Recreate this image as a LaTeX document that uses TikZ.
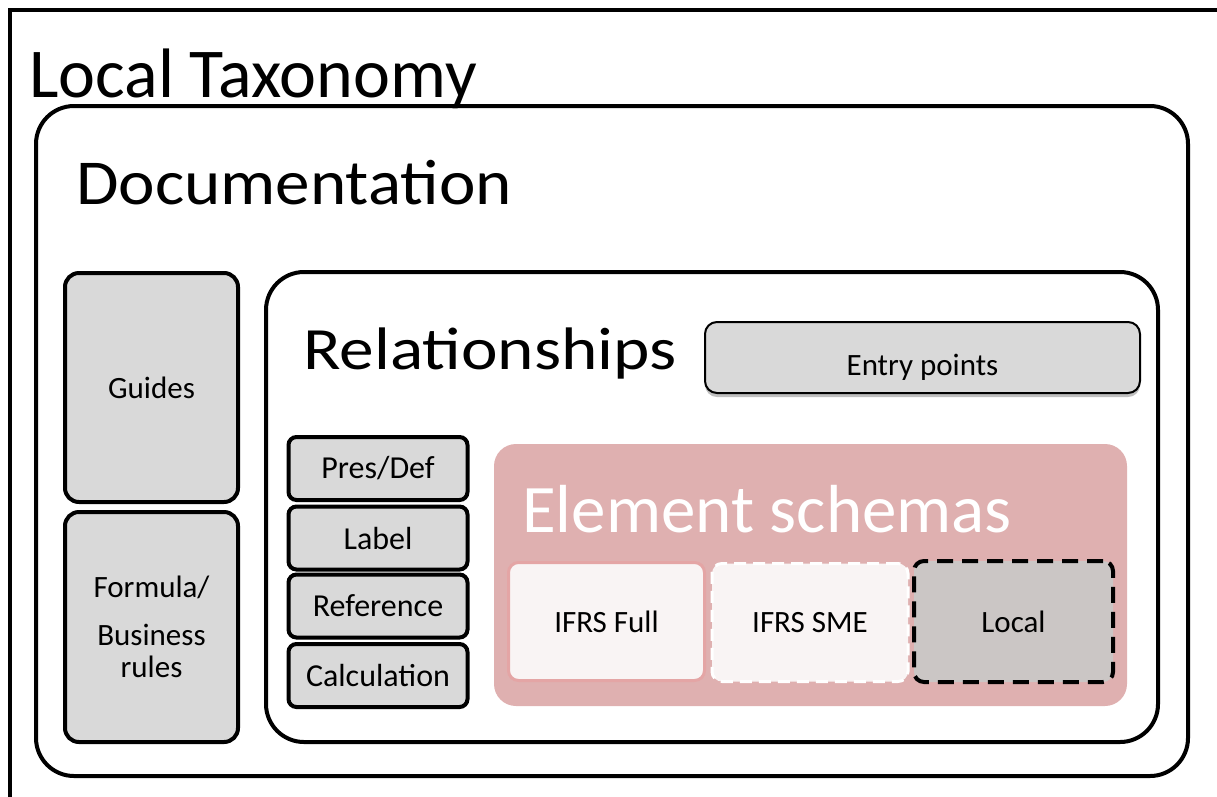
\documentclass[tikz,border=0pt]{standalone}
\usepackage{fontspec}
\setmainfont{Carlito}
\usetikzlibrary{
		positioning,
		shadows
	}
\definecolor{boxgray}{RGB}{217,217,217}
\definecolor{schemapink}{RGB}{223,176,176}
\definecolor{pinkline}{RGB}{228,165,165}
\definecolor{paleboxfill}{RGB}{249,244,244}
\definecolor{localfill}{RGB}{203,198,197}
\tikzset{
		bigbox/.style={draw, line width=4pt, rounded corners=38pt},
		graybox/.style={draw, line width=4pt, fill=boxgray, rounded corners=14pt, align=center, font=\fontsize{31}{36}\selectfont},
		relbox/.style={draw, line width=4pt, fill=boxgray, rounded corners=8pt, minimum width=179pt, minimum height=63pt, font=\fontsize{32}{36}\selectfont},
		schemabox/.style={minimum width=196pt, minimum height=118pt, rounded corners=10pt, font=\fontsize{31}{36}\selectfont},
		bigtitle/.style={anchor=base west, inner sep=0pt}
	}
\begin{document}
\begin{tikzpicture}[x=1pt, y=-1pt] % one unit = one pixel of the reference, y going down
		\useasboundingbox (0,0) rectangle (1217,796);
		% the outer frame runs off the page
		\node[draw, line width=4pt, minimum width=1230pt, minimum height=810pt, inner sep=0pt, anchor=north west] (taxo) at (8,8) {};
		\node[bigtitle, font=\fontsize{70}{80}\selectfont] (taxotitle) at (29,97) {Local Taxonomy};

		\node[bigbox, minimum width=1152pt, minimum height=670pt] (doc) at (612,441) {};
		\node[bigtitle, xscale=1.08, font=\fontsize{64}{72}\selectfont] (doctitle) at (76,204) {Documentation};

		\node[graybox, minimum width=173pt, minimum height=229pt] (guides) at (151.5,387.5) {Guides};
		\node[graybox, minimum width=173pt, minimum height=230pt] (formula) at (151.5,627) {Formula/\\[12pt]Business\\[-4pt]rules};

		\node[bigbox, minimum width=892pt, minimum height=470pt] (rel) at (712,507) {};
		\node[bigtitle, xscale=1.155, font=\fontsize{60}{70}\selectfont] (reltitle) at (303,369) {Relationships};
		\node[draw, line width=2pt, fill=boxgray, rounded corners=12pt, minimum width=435pt, minimum height=71pt,
			text height=35pt, text depth=0pt,
			drop shadow={shadow xshift=0pt, shadow yshift=-4pt, opacity=0.5}, font=\fontsize{31}{36}\selectfont] (entry) at (922.5,357.5) {Entry points};

		\node[relbox] (presdef) at (378,468.5) {Pres/Def};
		\node[relbox] (label) at (378,538) {Label};
		\node[relbox] (reference) at (378,606) {Reference};
		\node[relbox] (calc) at (378,675.5) {Calculation};

		% element schemas
		\node[fill=schemapink, rounded corners=22pt, minimum width=633pt, minimum height=262pt] (schemas) at (810.5,575) {};
		\node[bigtitle, xscale=1.015, text=white, font=\fontsize{68}{76}\selectfont] (schematitle) at (522,532) {Element schemas};
		\node[schemabox, draw=pinkline, line width=3pt, fill=paleboxfill] (full) at (606.5,621.5) {IFRS Full};
		\node[schemabox, draw=white, line width=3pt, dash pattern=on 12pt off 7pt, fill=paleboxfill] (sme) at (810,622.5) {IFRS SME};
		\node[schemabox, draw=black, line width=4pt, dash pattern=on 16pt off 9pt, fill=localfill, minimum width=199pt, minimum height=121pt] (local) at (1013.5,621.5) {Local};
	\end{tikzpicture}
\end{document}
